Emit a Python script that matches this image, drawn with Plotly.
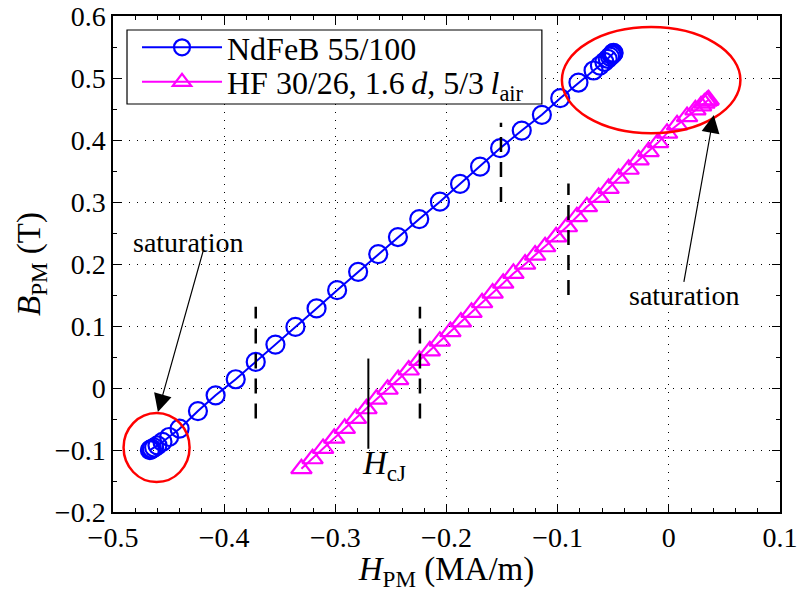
import plotly.graph_objects as go

# Demagnetisation working points of the permanent magnet
ndfeb_h = [-0.4668, -0.4662, -0.4650, -0.4630, -0.4600, -0.4555, -0.4495,
           -0.4401, -0.4236, -0.4077, -0.3896, -0.3716, -0.3539, -0.3359,
           -0.3169, -0.2984, -0.2795, -0.2614, -0.2437, -0.2245, -0.2059,
           -0.1878, -0.1698, -0.1518, -0.1323, -0.1142, -0.0977, -0.0813,
           -0.0677, -0.0620, -0.0580, -0.0550, -0.0530, -0.0515, -0.0505,
           -0.0500, -0.0497]
ndfeb_b = [-0.1003, -0.0995, -0.0980, -0.0960, -0.0925, -0.0870, -0.0790,
           -0.0656, -0.0372, -0.0118, 0.0141, 0.0420, 0.0701, 0.0985,
           0.1283, 0.1578, 0.1874, 0.2160, 0.2435, 0.2725, 0.3005,
           0.3291, 0.3570, 0.3868, 0.4152, 0.4406, 0.4675, 0.4927,
           0.5121, 0.5200, 0.5260, 0.5310, 0.5345, 0.5370, 0.5390,
           0.5400, 0.5406]

hf_h = [-0.3305, -0.3205, -0.3110, -0.3010, -0.2915, -0.2815, -0.2720,
        -0.2630, -0.2530, -0.2435, -0.2340, -0.2245, -0.2150, -0.2060,
        -0.1965, -0.1870, -0.1775, -0.1680, -0.1585, -0.1490, -0.1398,
        -0.1293, -0.1203, -0.1113, -0.1014, -0.0917, -0.0827, -0.0737,
        -0.0632, -0.0542, -0.0452, -0.0362, -0.0272, -0.0182, -0.0097,
        -0.0016, 0.0074, 0.0164, 0.0239, 0.0290, 0.0320, 0.0340,
        0.0352, 0.0358]
hf_b = [-0.1302, -0.1141, -0.0975, -0.0810, -0.0650, -0.0490, -0.0335,
        -0.0180, -0.0020, 0.0135, 0.0290, 0.0445, 0.0600, 0.0755,
        0.0910, 0.1065, 0.1220, 0.1375, 0.1530, 0.1690, 0.1848,
        0.1998, 0.2144, 0.2278, 0.2439, 0.2601, 0.2763, 0.2924,
        0.3076, 0.3221, 0.3383, 0.3528, 0.3679, 0.3813, 0.3958,
        0.4110, 0.4244, 0.4378, 0.4486, 0.4550, 0.4595, 0.4625,
        0.4640, 0.4648]

# Vertical dashed markers: (H, B_low, B_high)
dashed_marks = [(-0.3716, -0.049, 0.131),
                (-0.1510, 0.300, 0.428),
                (-0.2239, -0.049, 0.131),
                (-0.0903, 0.150, 0.330)]
# Intrinsic coercivity marker
hcj_h = -0.2703
hcj_b = (-0.098, 0.0475)

# Saturation ellipses: (h_center, b_center, h_radius, b_radius)
sat_ellipses = [(-0.4608, -0.0961, 0.0297, 0.0557),
                (-0.0159, 0.4966, 0.0803, 0.0856)]

# Annotation arrows: (text_h, text_b, tail_h, tail_b, tip_h, tip_b)
sat_arrows = [(-0.4329, 0.2354, -0.4185, 0.2236, -0.4596, -0.0388),
              (0.0140, 0.1498, 0.0133, 0.1687, 0.0404, 0.4405)]

x_range = [-0.5, 0.1]
y_range = [-0.2, 0.6]
x_ticks = [-0.5, -0.4, -0.3, -0.2, -0.1, 0, 0.1]
y_ticks = [-0.2, -0.1, 0, 0.1, 0.2, 0.3, 0.4, 0.5, 0.6]
x_ticktext = ["\u22120.5", "\u22120.4", "\u22120.3", "\u22120.2", "\u22120.1", "0", "0.1"]
y_ticktext = ["\u22120.2", "\u22120.1", "0", "0.1", "0.2", "0.3", "0.4", "0.5", "0.6"]

FONT = "'Liberation Serif', 'DejaVu Serif', serif"

fig = go.Figure()

fig.add_trace(go.Scatter(
    x=ndfeb_h, y=ndfeb_b, mode="lines+markers",
    name="NdFeB 55/100", legend="legend",
    line=dict(color="#0000ff", width=2),
    marker=dict(symbol="circle-open", size=18, color="#0000ff",
                line=dict(width=2.2, color="#0000ff")),
))
fig.add_trace(go.Scatter(
    x=hf_h, y=hf_b, mode="lines+markers",
    name="HF 30/26, 1.6\u2009<i>d</i>, 5/3\u2009<i>l</i><sub>air</sub>",
    legend="legend2",
    line=dict(color="#ff00ff", width=2),
    marker=dict(symbol="triangle-up-open", size=18, color="#ff00ff",
                line=dict(width=2.2, color="#ff00ff")),
))

shapes = []
for h, b0, b1 in dashed_marks:
    shapes.append(dict(type="line", xref="x", yref="y", x0=h, x1=h, y0=b0, y1=b1,
                       line=dict(color="black", width=2.5, dash="15px,10px")))
shapes.append(dict(type="line", xref="x", yref="y", x0=hcj_h, x1=hcj_h,
                   y0=hcj_b[0], y1=hcj_b[1], line=dict(color="black", width=2)))
for hc, bc, hr, br in sat_ellipses:
    shapes.append(dict(type="circle", xref="x", yref="y",
                       x0=hc - hr, x1=hc + hr, y0=bc - br, y1=bc + br,
                       line=dict(color="#ff0000", width=2.5)))
# Legend frame (white box with black border behind the legend entries)
shapes.append(dict(type="rect", xref="paper", yref="paper",
                   x0=0.021, x1=0.643, y0=0.8226, y1=0.9718, layer="above",
                   fillcolor="white", line=dict(color="black", width=1.2)))

annotations = []
for th, tb, ah, ab, ph, pb in sat_arrows:
    annotations.append(dict(x=ph, y=pb, ax=ah, ay=ab, xref="x", yref="y",
                            axref="x", ayref="y", text="", showarrow=True,
                            arrowhead=2, arrowsize=3, arrowwidth=1.2,
                            arrowcolor="black"))
    annotations.append(dict(x=th, y=tb, xref="x", yref="y", text="saturation",
                            showarrow=False, font=dict(family=FONT, size=28, color="black")))
annotations.append(dict(x=-0.2563, y=-0.1249, xref="x", yref="y",
                        text="<i>H</i><sub>cJ</sub>", showarrow=False,
                        font=dict(family=FONT, size=33, color="black")))

axis_common = dict(
    showline=True, linecolor="black", linewidth=1.5, mirror="ticks",
    ticks="inside", ticklen=8, tickwidth=1, tickcolor="black",
    showgrid=True, gridcolor="black", griddash="1px,7px", gridwidth=1,
    zeroline=False, automargin=False,
    tickfont=dict(family=FONT, size=28, color="black"),
)

fig.update_xaxes(range=x_range, tickvals=x_ticks, ticktext=x_ticktext,
                 minor=dict(ticks="inside", ticklen=4, dtick=0.02, tick0=-0.5,
                            tickcolor="black", showgrid=False),
                 title=dict(text="<i>H</i><sub>PM</sub> (MA/m)",
                            font=dict(family=FONT, size=33, color="black"), standoff=2),
                 **axis_common)
fig.update_yaxes(range=y_range, tickvals=y_ticks, ticktext=y_ticktext,
                 minor=dict(ticks="inside", ticklen=4, dtick=0.05, tick0=-0.2,
                            tickcolor="black", showgrid=False),
                 title=dict(text="<i>B</i><sub>PM</sub> (T)",
                            font=dict(family=FONT, size=33, color="black"), standoff=4),
                 **axis_common)

legend_style = dict(xanchor="left", yanchor="middle", bgcolor="rgba(0,0,0,0)",
                    borderwidth=0, font=dict(family=FONT, size=32, color="black"),
                    itemwidth=80)

fig.update_layout(
    width=798, height=592,
    margin=dict(l=113, r=18, t=16, b=80),
    paper_bgcolor="white", plot_bgcolor="white",
    shapes=shapes, annotations=annotations,
    showlegend=True,
    legend=dict(x=0.036, y=0.9365, **legend_style),
    legend2=dict(x=0.036, y=0.8669, **legend_style),
)

fig.write_html("out.html")
